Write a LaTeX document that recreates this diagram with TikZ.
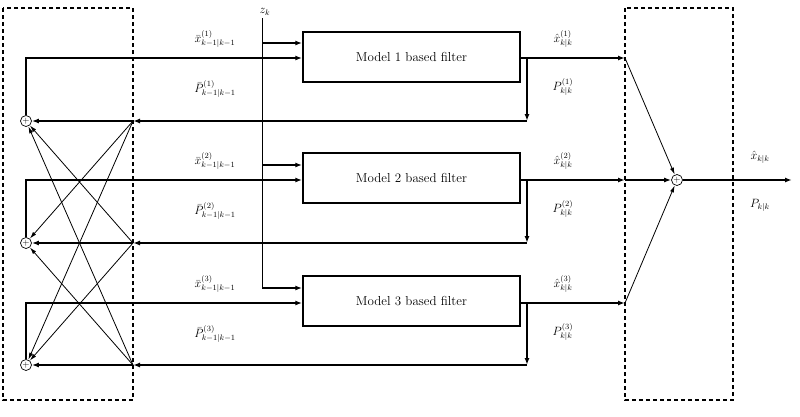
\documentclass[tikz,border=0pt]{standalone}
\usetikzlibrary{arrows.meta}
\begin{document}
\begin{tikzpicture}[x=1pt,y=-1pt,
  thk/.style={line width=1.5pt,-{Latex[length=7pt,width=5pt]}},
  thn/.style={line width=0.8pt,-{Latex[length=7pt,width=4pt]}},
  box/.style={draw,line width=1.5pt,minimum width=217pt,minimum height=50pt,inner sep=0pt,font=\fontsize{13}{15}\selectfont},
  sum/.style={draw,circle,line width=0.7pt,minimum size=11pt,inner sep=0pt,font=\fontsize{9}{9}\selectfont},
  dbox/.style={line width=1.5pt,dash pattern=on 4pt off 3pt},
  lab/.style={font=\fontsize{12}{14}\selectfont,inner sep=0pt}]
\useasboundingbox (0,0) rectangle (800,416);
\draw[dbox] (3,8) rectangle (133,400);
\draw[dbox] (625,8) rectangle (733,400);
\foreach \i/\yb/\yz/\yx/\yr in {1/57/43/58/121,2/178/165/180/243,3/301/288/303/365}{
  \node[box] (f\i) at (411.5,\yb) {Model \i\ based filter};
  \node[sum] (s\i) at (26,\yr) {$+$};
  \coordinate (zin\i) at (262,\yz);
  \coordinate (up\i) at (26,\yx);
  \coordinate (zb\i) at (f\i.west|-zin\i);
  \coordinate (xin\i) at (f\i.west|-up\i);
  \coordinate (br\i) at (527,\yx);
  \coordinate (rt\i) at (527,\yr);
  \coordinate (lc\i) at (133,\yr);
  \coordinate (out\i) at (625,\yx);
  \draw[thk] (zin\i) -- (zb\i);
  \draw[thk] (s\i.north) -- (up\i) -- (xin\i);
  \draw[thk] (f\i.east|-br\i) -- (out\i);
  \draw[thk] (br\i) -- (rt\i);
  \draw[thk] (rt\i) -- (lc\i);
  \draw[thk] (lc\i) -- (s\i.east);
  \node[lab] at (215,\yz-4) {$\bar{x}^{(\i)}_{k-1|k-1}$};
  \node[lab] at (215,\yz+46) {$\bar{P}^{(\i)}_{k-1|k-1}$};
  \node[lab] at (563,\yz-4) {$\hat{x}^{(\i)}_{k|k}$};
  \node[lab] at (563,\yz+44) {$P^{(\i)}_{k|k}$};
}
\coordinate (ztop) at (262,18);
\node[lab] at (265,12) {$z_k$};
\draw[line width=0.9pt] (ztop) -- (zin3);
\foreach \a/\b in {1/2,1/3,2/1,2/3,3/1,3/2}{
  \draw[thn] (lc\a) -- (s\b);
}
\node[sum] (S) at (677,180) {$+$};
\draw[thn] (out1) -- (S);
\draw[thn] (out3) -- (S);
\draw[thk] (out2) -- (S.west);
\coordinate (fin) at (792,180);
\draw[thk] (S.east) -- (fin);
\node[lab] at (760,157) {$\hat{x}_{k|k}$};
\node[lab] at (760,205) {$P_{k|k}$};
\end{tikzpicture}
\end{document}
